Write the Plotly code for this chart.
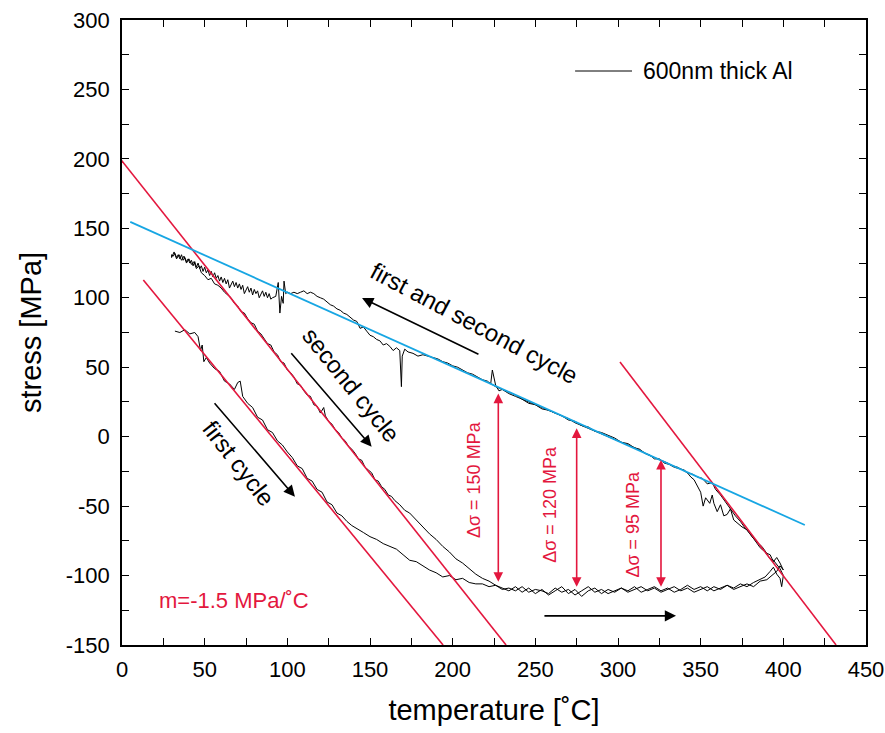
import plotly.graph_objects as go

# ---------------- data ----------------
# first heating
t_heat1 = [32, 35, 38, 41, 44, 46, 47.5, 48.5, 49.5, 51, 53, 56, 59, 62, 65, 68, 70, 71.5, 73, 76,
           79, 82, 85, 88, 91, 94, 97, 100, 103, 106, 109, 112, 115, 118, 121, 124, 127, 130, 133, 136,
           139, 142, 146, 150, 154, 158, 162, 166, 170, 174, 178, 182, 186, 190, 194, 198, 202, 206, 210, 214,
           218, 222, 226, 230, 234, 238, 242, 246, 250, 254, 258, 262, 266, 270, 274, 278, 282, 286, 290, 294,
           298, 302, 306, 310, 314, 318, 322, 326, 330, 334, 338, 342, 346, 350, 354, 358, 362, 366, 370, 374,
           378, 382, 386, 390, 393, 396, 398, 400]
s_heat1 = [76, 75, 77, 74, 75, 72, 62, 66, 54, 57, 53, 49, 47, 40, 38, 34, 39, 40, 29, 24,
           21, 14, 12, 5, 3, -3, -6, -11, -15, -21, -23, -30, -32, -38, -40, -47, -49, -55, -57, -61,
           -64, -66, -69, -72, -74, -77, -79, -81, -85, -89, -90, -93, -96, -98, -101, -100, -103, -102, -105, -106,
           -106, -108, -107, -110, -109, -111, -108, -112, -110, -111, -113, -109, -112, -110, -114, -111, -108, -112, -110, -113,
           -111, -109, -112, -110, -108, -111, -109, -112, -110, -108, -111, -109, -112, -110, -108, -111, -109, -107, -110, -108,
           -106, -108, -104, -103, -100, -97, -93, -96]

# first cooling
t_cool1 = [400, 398, 396, 394, 392, 390, 387, 384, 381, 378, 375, 372, 370, 368, 366, 364, 362, 360, 358, 357,
           355.5, 353, 351.5, 350, 348, 346, 344, 342, 340, 337, 334, 331, 328, 325, 322, 319, 316, 313, 310, 306,
           302, 298, 294, 290, 286, 282, 278, 274, 270, 266, 262, 258, 254, 250, 246, 242, 238, 234, 230, 228,
           226, 224, 223, 221, 218, 215, 212, 209, 206, 203, 200, 197, 194, 191, 188, 185, 182, 179, 176, 173,
           171, 169.5, 169, 168, 166, 164, 162, 160, 158, 156, 154, 152, 150, 148, 146, 144, 142, 140, 138, 136,
           134, 132, 130, 128, 126, 124, 122, 120, 118, 116, 114, 112, 110, 108, 106, 104, 102, 100, 99, 98,
           97.5, 96.5, 95.5, 94.5, 93, 91,
           90, 89, 88, 87, 86, 85, 84, 83, 82, 81, 80, 79, 78, 77, 76, 75, 74, 73, 72, 71,
           70, 69, 68, 67, 66, 65, 64, 63, 62, 61, 60, 59, 58, 57, 56, 55, 54, 53, 52, 51,
           50, 49, 48, 47, 46, 45, 44, 43, 42, 41, 40, 39, 38, 37, 36, 35, 34, 33, 32, 31, 30]
s_cool1 = [-96, -91, -87, -90, -85, -84, -79, -76, -72, -67, -65, -62, -60, -52, -56, -57, -49, -54, -48, -42,
           -48, -44, -50, -40, -36, -31, -29, -26, -24, -23, -22, -20, -19, -16, -16, -13, -12, -9, -8, -5,
           -4, -1, 1, 3, 4, 7, 8, 11, 12, 15, 17, 19, 20, 23, 24, 27, 29, 31, 34, 33,
           37, 48, 38, 40, 41, 43, 45, 46, 48, 50, 51, 53, 54, 56, 57, 58, 59, 58, 60, 61,
           63, 58, 36, 62, 64, 62, 65, 67, 66, 69, 70, 72, 73, 76, 79, 78, 83, 84, 86, 88,
           89, 91, 92, 94, 95, 97, 99, 100, 101, 103, 104, 103, 105, 104, 103, 104, 103, 104, 103, 112,
           96, 101, 89, 111, 101, 100,
           99, 103, 100, 104, 101, 105, 102, 100, 105, 103, 106, 102, 107, 104, 108, 105, 103, 109, 106, 110,
           107, 111, 108, 112, 109, 107, 113, 110, 114, 111, 115, 112, 116, 114, 118, 115, 119, 116, 120, 118,
           122, 119, 123, 121, 125, 122, 126, 123, 127, 125, 128, 126, 129, 127, 131, 128, 131, 129, 132, 130, 131]

# second heating
t_heat2 = [30, 31.5, 33, 34.5, 36, 37.5, 39, 40.5, 42, 43.5, 45, 46.5, 48, 50, 52, 54, 56, 58, 60, 62,
           64, 66, 68, 70, 72, 74, 76, 78, 80, 82, 84, 86, 88, 90, 92, 94, 96, 98, 100, 102,
           104, 106, 108, 110, 112, 114, 116, 118, 120, 122, 123, 125, 127, 129, 131, 133, 135, 137, 139, 141,
           143, 145, 147, 149, 151, 153, 155, 157, 159, 161, 163, 165, 168, 171, 174, 178, 182, 186, 190, 194,
           198, 202, 206, 210, 214, 218, 222, 226, 230, 234, 238, 242, 246, 250, 254, 258, 262, 266, 270, 274,
           278, 282, 286, 290, 294, 298, 302, 306, 310, 314, 318, 322, 326, 330, 334, 338, 342, 346, 350, 354,
           358, 362, 366, 370, 374, 378, 382, 386, 389, 392, 394, 396, 398, 399, 400]
s_heat2 = [129, 133, 128, 131, 127, 130, 125, 128, 124, 126, 121, 123, 118, 116, 113, 114, 110, 109, 107, 104,
           102, 100, 96, 94, 90, 89, 85, 82, 81, 76, 74, 70, 67, 66, 61, 59, 54, 53, 48, 46,
           43, 38, 37, 33, 30, 29, 23, 22, 17, 21, 15, 11, 9, 5, 3, -1, -3, -7, -9, -12,
           -16, -17, -22, -24, -26, -31, -32, -36, -38, -42, -43, -46, -49, -53, -55, -60, -65, -70, -74, -79,
           -83, -88, -91, -95, -99, -102, -104, -107, -109, -111, -108, -112, -109, -113, -110, -114, -111, -108, -113, -110,
           -115, -111, -109, -113, -110, -112, -109, -111, -108, -112, -110, -108, -111, -109, -112, -110, -107, -110, -108, -111,
           -108, -110, -107, -109, -106, -108, -105, -103, -101, -97, -94, -99, -102, -108, -100]

# second cooling
t_cool2 = [400, 398, 396, 394, 392, 389, 386, 383, 380, 377, 374, 371, 368, 365, 362, 359, 357, 354, 351, 348,
           345, 342, 339, 336, 333, 330, 326, 322, 318, 314, 310, 306, 302, 298, 294, 290, 286, 282, 278, 274,
           270, 266, 262, 258, 254, 250, 246, 242, 238, 234, 230, 226, 222]
s_cool2 = [-100, -95, -92, -89, -88, -83, -80, -75, -70, -66, -61, -57, -52, -47, -42, -38, -33, -34, -30, -29,
           -27, -26, -24, -22, -21, -19, -17, -15, -13, -10, -8, -6, -4, -2, 0, 2, 4, 6, 8, 10,
           13, 15, 17, 19, 21, 23, 25, 27, 30, 32, 34, 36, 39]

# fitted lines (end points)
fit_left_t = [12.9, 194.2]
fit_left_s = [112.8, -150]
fit_mid_t = [-2, 232.3]
fit_mid_s = [201.5, -150]
fit_right_t = [301.2, 431.9]
fit_right_s = [53.8, -150]
fit_blue_t = [5, 413]
fit_blue_s = [154.7, -63.6]

# delta-sigma markers
ds_t = [227.6, 275, 326]
ds_top = [31, 6, -16.8]
ds_bot = [-105.6, -109.2, -109.2]
ds_lab = ["Δσ = 150 MPa", "Δσ = 120 MPa", "Δσ = 95 MPa"]
ds_lab_t = [212.5, 258.9, 309.3]
ds_lab_s = [-31, -49, -63]

# tick labels
x_ticks = [0, 50, 100, 150, 200, 250, 300, 350, 400, 450]
x_ticklabels = ["0", "50", "100", "150", "200", "250", "300", "350", "400", "450"]
y_ticks = [-150, -100, -50, 0, 50, 100, 150, 200, 250, 300]
y_ticklabels = ["-150", "-100", "-50", "0", "50", "100", "150", "200", "250", "300"]

RED = "#e3173e"
BLUE = "#17a6e3"
FONT = "Liberation Sans, Arial, sans-serif"

t_all = t_heat1 + t_cool1 + t_heat2 + t_cool2
s_all = s_heat1 + s_cool1 + s_heat2 + s_cool2

fig = go.Figure()
fig.add_trace(go.Scatter(x=t_all, y=s_all, mode="lines",
                         line=dict(color="black", width=1), showlegend=False))
for tt, ss in [(fit_left_t, fit_left_s), (fit_mid_t, fit_mid_s), (fit_right_t, fit_right_s)]:
    fig.add_trace(go.Scatter(x=tt, y=ss, mode="lines", line=dict(color=RED, width=1.6),
                             showlegend=False))
fig.add_trace(go.Scatter(x=fit_blue_t, y=fit_blue_s, mode="lines",
                         line=dict(color=BLUE, width=1.8), showlegend=False))

ann = []
# black arrows
for (hx, hy, tx, ty) in [(145.2, 99.8, 216.5, 58.8), (151.0, -7.2, 101.6, 61.2),
                         (104.6, -43.2, 55.2, 25.2), (335.1, -129, 254.6, -129)]:
    ann.append(dict(x=hx, y=hy, ax=tx, ay=ty, xref="x", yref="y", axref="x", ayref="y",
                    text="", showarrow=True, arrowhead=2, arrowsize=1.4, arrowwidth=1.6,
                    arrowcolor="black", standoff=0, startstandoff=0))
# red double arrows
for tt, top, bot in zip(ds_t, ds_top, ds_bot):
    ann.append(dict(x=tt, y=top, ax=tt, ay=bot, xref="x", yref="y", axref="x", ayref="y",
                    text="", showarrow=True, arrowhead=2, startarrowhead=2, arrowside="end+start",
                    arrowsize=1.2, startarrowsize=1.2, arrowwidth=1.6, arrowcolor=RED,
                    standoff=0, startstandoff=0))
for lab, tt, ss in zip(ds_lab, ds_lab_t, ds_lab_s):
    ann.append(dict(x=tt, y=ss, text=lab, textangle=-90, showarrow=False,
                    font=dict(family=FONT, size=18, color=RED)))

ann.append(dict(x=213.5, y=81.8, text="first and second cycle", textangle=28, showarrow=False,
                font=dict(family=FONT, size=24, color="black")))
ann.append(dict(x=139.1, y=37.2, text="second cycle", textangle=51, showarrow=False,
                font=dict(family=FONT, size=24, color="black")))
ann.append(dict(x=70.8, y=-19, text="first cycle", textangle=52, showarrow=False,
                font=dict(family=FONT, size=24, color="black")))
ann.append(dict(x=21, y=-117.6, text="m=-1.5 MPa/˚C", xanchor="left", showarrow=False,
                font=dict(family=FONT, size=22, color=RED)))
# legend
ann.append(dict(x=0.6976, y=0.9184, xref="paper", yref="paper", text="600nm thick Al",
                xanchor="left", yanchor="middle", showarrow=False,
                font=dict(family=FONT, size=23, color="black")))

fig.update_layout(
    width=885, height=733,
    margin=dict(l=122, r=19, t=20, b=88),
    paper_bgcolor="white", plot_bgcolor="white",
    font=dict(family=FONT, color="black"),
    annotations=ann,
    shapes=[dict(type="line", xref="paper", yref="paper", x0=0.609, x1=0.6855,
                 y0=0.9184, y1=0.9184, line=dict(color="black", width=1))],
)
axis_common = dict(showgrid=False, zeroline=False, showline=True, linecolor="black", linewidth=1.6,
                   mirror="allticks", ticks="inside", ticklen=7, tickwidth=1.4, tickcolor="black",
                   tickfont=dict(family=FONT, size=22, color="black"), tickmode="array")
fig.update_xaxes(range=[0, 450], tickvals=x_ticks, ticktext=x_ticklabels, automargin=False,
                 ticklabelstandoff=4,
                 minor=dict(tickvals=[25, 75, 125, 175, 225, 275, 325, 375, 425], ticks="inside",
                            ticklen=7, tickwidth=1.4, tickcolor="black"),
                 title=dict(text="temperature [˚C]", font=dict(family=FONT, size=29), standoff=18),
                 **axis_common)
fig.update_yaxes(range=[-150, 300], tickvals=y_ticks, ticktext=y_ticklabels, automargin=False,
                 ticklabelstandoff=6,
                 minor=dict(tickvals=[-125, -75, -25, 25, 75, 125, 175, 225, 275], ticks="inside",
                            ticklen=7, tickwidth=1.4, tickcolor="black"),
                 title=dict(text="stress [MPa]", font=dict(family=FONT, size=29), standoff=16),
                 **axis_common)

fig.write_html("out.html")
